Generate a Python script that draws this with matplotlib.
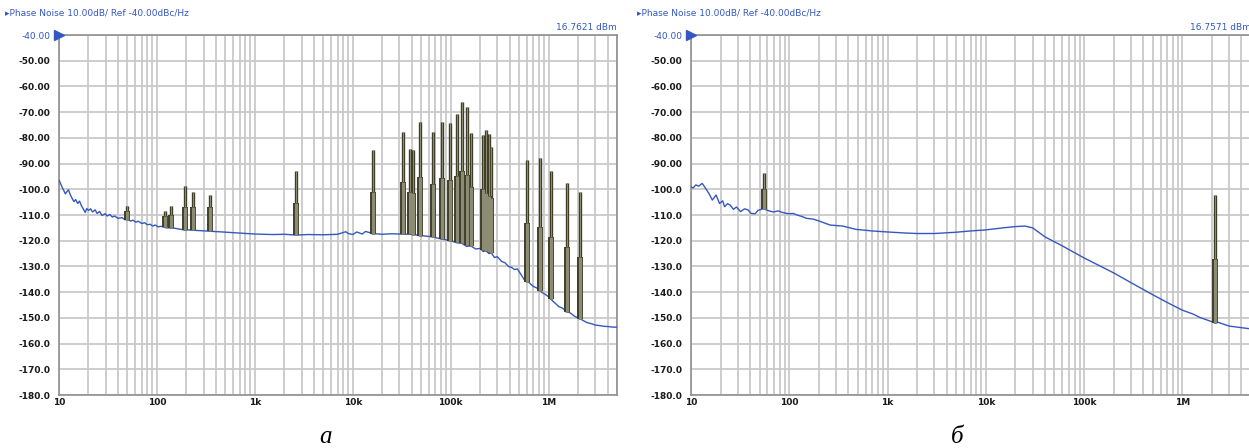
import numpy as np
import matplotlib
matplotlib.use("Agg")
import matplotlib.pyplot as plt
from matplotlib.ticker import LogLocator, NullFormatter

# noise floor, panel a
freq_a = [10, 10.3, 10.7, 11.2, 11.6, 12.0, 12.5, 13.0, 13.6, 14.2, 14.8, 15.5, 16.2, 17.0,
          17.8, 18.5, 19.2, 20, 21, 22, 23.4, 24.5, 26, 27.5, 29.6, 31, 33, 35, 37, 40, 44,
          47, 50, 54, 57, 61, 64.5, 70, 75, 80, 85, 91, 96, 103, 110, 125, 144, 165, 190,
          209, 250, 313, 380, 468, 560, 683, 820, 1020, 1500, 2000, 2660, 3500, 5000, 7000,
          8500, 9000, 10000, 11000, 12500, 13500, 16100, 20000, 25000, 30000, 40000, 50000,
          65000, 80000, 100000, 115000, 130000, 145000, 160000, 180000, 200000, 215000,
          230000, 245000, 260000, 280000, 300000, 330000, 360000, 389000, 420000, 450000,
          480000, 520000, 568000, 620000, 700000, 760000, 848000, 920000, 1000000, 1100000,
          1270000, 1400000, 1500000, 1650000, 1850000, 2000000, 2200000, 2450000, 2760000,
          3000000, 3300000, 3700000, 4100000, 4500000, 5000000]
noise_a = [-96.4, -97.5, -99.0, -100.5, -101.8, -101.0, -100.2, -102.0, -103.5, -104.8,
           -104.0, -105.5, -104.6, -106.5, -107.8, -109.0, -107.5, -108.2, -107.6, -108.8,
           -108.0, -109.4, -108.6, -110.2, -109.5, -110.4, -109.8, -110.8, -110.4, -111.3,
           -111.0, -111.8, -111.6, -112.4, -112.0, -112.8, -112.4, -113.3, -113.0, -113.8,
           -113.6, -114.3, -113.9, -114.6, -114.4, -115.0, -115.0, -115.4, -115.8, -115.8,
           -116.0, -116.2, -116.4, -116.6, -116.8, -117.0, -117.2, -117.4, -117.6, -117.5,
           -117.8, -117.6, -117.7, -117.5, -116.5, -117.2, -117.6, -116.6, -117.4, -116.4,
           -117.2, -117.5, -117.3, -117.4, -117.5, -118.0, -118.5, -119.3, -120.0, -120.8,
           -121.0, -122.2, -122.0, -123.2, -123.0, -124.2, -123.8, -125.0, -124.8, -126.5,
           -126.2, -128.0, -128.6, -130.0, -130.4, -131.2, -131.0, -133.0, -135.3, -136.0,
           -137.8, -138.4, -140.0, -140.8, -141.8, -143.4, -145.6, -146.3, -147.5, -148.0,
           -149.4, -150.0, -150.8, -151.8, -152.3, -152.8, -153.0, -153.3, -153.4, -153.6,
           -153.6]

# spurs, panel a: frequency, peak, level of wide part, base
spur_f_a = [50, 120, 138, 192, 234, 345, 2660, 16100, 32400, 38800, 41400, 48800, 65800,
            80700, 99000, 115000, 131000, 148000, 163000, 214000, 228000, 245000, 257000,
            596000, 815000, 1050000, 1530000, 2090000]
spur_top_a = [-106.5, -108.4, -106.6, -98.7, -101.1, -102.2, -92.8, -84.7, -77.6, -84.5,
              -84.7, -73.7, -77.9, -73.7, -74.3, -70.7, -66.2, -68.1, -78.2, -78.9, -77.0,
              -78.6, -83.4, -88.6, -88.0, -92.8, -97.7, -101.2]
spur_mid_a = [-108.5, -110.5, -110.0, -106.7, -107.0, -107.0, -105.3, -101.2, -97.0, -101.0,
              -101.5, -95.3, -98.0, -95.7, -96.4, -94.8, -92.9, -94.4, -99.0, -100.0, -101.6,
              -102.6, -103.5, -113.2, -114.5, -118.4, -122.6, -126.5]
spur_bot_a = [-111.8, -114.8, -115.0, -115.8, -116.0, -116.3, -117.8, -117.2, -117.4, -117.5,
              -117.6, -118.0, -118.5, -119.3, -120.0, -120.5, -121.0, -121.5, -122.0, -123.5,
              -124.0, -124.5, -124.8, -136.0, -139.5, -142.5, -147.7, -150.5]

# noise floor, panel b
freq_b = [10, 10.5, 11.2, 12, 13, 14, 15.2, 16.5, 18, 19.5, 21, 22, 23.5, 25, 27, 29, 32,
          35, 38, 41, 45, 48, 52, 55, 60, 65, 70, 77, 85, 92, 100, 110, 120, 135, 150, 175,
          200, 260, 350, 480, 700, 1000, 1500, 2000, 3000, 5000, 7000, 10000, 15000, 20000,
          25000, 30000, 40000, 60000, 100000, 200000, 300000, 500000, 700000, 1000000,
          1300000, 1500000, 2000000, 2170000, 2300000, 3000000, 5000000]
noise_b = [-99.0, -99.5, -98.3, -98.8, -97.7, -99.5, -101.6, -104.2, -102.2, -105.5, -104.5,
           -106.8, -105.6, -106.1, -107.8, -106.9, -108.7, -107.6, -108.0, -109.4, -109.5,
           -108.2, -107.8, -107.5, -108.2, -108.6, -108.8, -108.4, -109.0, -109.3, -109.5,
           -109.4, -110.0, -110.6, -111.3, -111.6, -112.3, -113.9, -114.3, -115.6, -116.2,
           -116.6, -117.0, -117.2, -117.2, -116.7, -116.2, -115.8, -115.0, -114.5, -114.3,
           -115.0, -118.5, -122.0, -126.7, -132.5, -136.3, -141.0, -144.0, -147.0, -148.6,
           -149.8, -151.5, -151.9, -151.7, -153.2, -154.3]

spur_f_b = [55.6, 2170000]
spur_top_b = [-93.5, -102.2]
spur_mid_b = [-100.0, -127.2]
spur_bot_b = [-107.5, -152.1]

carrier = ["16.7621 dBm", "16.7571 dBm"]
y_ticks = list(range(-40, -190, -10))
y_labels = ["%.2f" % v if v > -100 else "%.1f" % v for v in y_ticks]
x_ticks = [10, 100, 1e3, 1e4, 1e5, 1e6]
x_labels = ["10", "100", "1k", "10k", "100k", "1M"]

W, H = 1249, 448
fig = plt.figure(figsize=(W / 100, H / 100), dpi=100)
fig.patch.set_facecolor("white")

blue = "#3558c0"
grid_c = "#c9c9c9"
spur_fill = "#8c8c74"
spur_edge = "#34341f"


def panel(left_px, right_px, freq, noise, sf, st, sm, sb, ref_txt, cap, cap_x):
    ax = fig.add_axes([left_px / W, 1 - 395 / H, (right_px - left_px) / W, 360 / H])
    ax.set_xscale("log")
    ax.set_xlim(10, 5e6)
    ax.set_ylim(-180, -40)
    ax.xaxis.set_minor_locator(LogLocator(base=10, subs=np.arange(2, 10), numticks=20))
    ax.xaxis.set_minor_formatter(NullFormatter())
    ax.set_xticks(x_ticks)
    ax.set_xticklabels(x_labels)
    ax.set_yticks(y_ticks)
    ax.set_yticklabels(y_labels)
    ax.grid(which="both", axis="x", color=grid_c, lw=1.3)
    ax.grid(which="major", axis="y", color=grid_c, lw=1.3)
    ax.set_axisbelow(True)
    ax.tick_params(which="both", length=0)
    ax.tick_params(axis="y", pad=6)
    ax.tick_params(axis="x", pad=2)
    for lab in ax.get_xticklabels() + ax.get_yticklabels():
        lab.set_fontsize(6.5)
        lab.set_fontweight("bold")
        lab.set_color("#1a1a1a")
    ax.get_yticklabels()[0].set_color(blue)
    ax.get_yticklabels()[0].set_fontweight("normal")
    for s in ax.spines.values():
        s.set_color("#8f8f8f")
        s.set_linewidth(1.2)

    ax.plot(freq, noise, color=blue, lw=1.0, zorder=3)
    # spurs: narrow outlined stem to peak, wide outlined body to mid level
    ax.vlines(sf, sb, st, color=spur_edge, lw=2.4, zorder=4)
    ax.vlines(sf, sb, st, color=spur_fill, lw=0.9, zorder=4)
    ax.vlines(sf, sb, sm, color=spur_edge, lw=4.2, zorder=5)
    ax.vlines(sf, sb, sm, color=spur_fill, lw=2.4, zorder=5)

    ax.plot([0], [1], marker=">", color=blue, ms=7, transform=ax.transAxes,
            clip_on=False, zorder=6)
    ax.text(1.0, 1.008, ref_txt, transform=ax.transAxes, ha="right", va="bottom",
            fontsize=6.5, color=blue)
    ax.text(-54 / (right_px - left_px), 1 + 17 / 360, "\u25b8Phase Noise 10.00dB/ Ref -40.00dBc/Hz",
            transform=ax.transAxes, ha="left", va="bottom", fontsize=6.5, color=blue)
    fig.text(cap_x / W, 1 - 437 / H, cap, fontfamily="Liberation Serif", style="italic",
             fontsize=18, ha="center", va="center")
    return ax


panel(59, 617, freq_a, noise_a, spur_f_a, spur_top_a, spur_mid_a, spur_bot_a,
      carrier[0], "\u0430", 326)
panel(691, 1251, freq_b, noise_b, spur_f_b, spur_top_b, spur_mid_b, spur_bot_b,
      carrier[1], "\u0431", 957)

fig.savefig("out.png", dpi=100)
